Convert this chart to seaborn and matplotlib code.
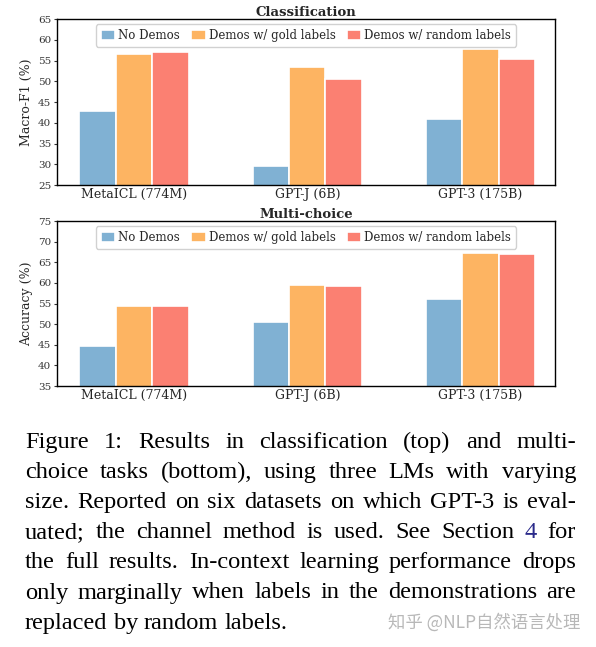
import matplotlib
matplotlib.use("Agg")
import matplotlib.pyplot as plt
import numpy as np
import pandas as pd
import seaborn as sns

# data
models = ['MetaICL (774M)', 'GPT-J (6B)', 'GPT-3 (175B)']
settings = ['No Demos', 'Demos w/ gold labels', 'Demos w/ random labels']

cls_no_demos = [42.8, 29.5, 40.8]
cls_gold = [56.6, 53.4, 57.7]
cls_random = [57.1, 50.5, 55.3]

mc_no_demos = [44.8, 50.4, 56.0]
mc_gold = [54.5, 59.5, 67.3]
mc_random = [54.4, 59.2, 66.9]

cls_yticks = [25, 30, 35, 40, 45, 50, 55, 60, 65]
mc_yticks = [35, 40, 45, 50, 55, 60, 65, 70, 75]

colors = ['#80b1d3', '#fdb462', '#fb8072']

caption_lines = [
    "Figure 1:  Results in classification (top) and multi-",
    "choice tasks (bottom), using three LMs with varying",
    "size. Reported on six datasets on which GPT-3 is eval-",
    "uated; the channel method is used.  See Section 4 for",
    "the full results. In-context learning performance drops",
    "only marginally when labels in the demonstrations are",
    "replaced by random labels.",
]


def long_df(a, b, c):
    rows = []
    for vals, s in zip([a, b, c], settings):
        for m, v in zip(models, vals):
            rows.append({'model': m, 'setting': s, 'value': v})
    return pd.DataFrame(rows)


sns.set_style("ticks")
plt.rcParams['font.family'] = ['DejaVu Serif']
plt.rcParams['axes.linewidth'] = 1.0

fig = plt.figure(figsize=(5.96, 6.47), dpi=100)
ax1 = fig.add_axes([0.0956, 0.714, 0.8356, 0.2566])
ax2 = fig.add_axes([0.0956, 0.4034, 0.8356, 0.255])

panels = [
    (ax1, long_df(cls_no_demos, cls_gold, cls_random), 'Classification', 'Macro-F1 (%)', cls_yticks),
    (ax2, long_df(mc_no_demos, mc_gold, mc_random), 'Multi-choice', 'Accuracy (%)', mc_yticks),
]

for ax, df, title, ylabel, yt in panels:
    sns.barplot(data=df, x='model', y='value', hue='setting', palette=colors,
                saturation=1, width=0.63, edgecolor='white', linewidth=1.2, ax=ax)
    ax.set_ylim(yt[0], yt[-1])
    ax.set_yticks(yt)
    ax.set_xlim(-0.445, 2.43)
    ax.set_title(title, fontsize=9.5, fontweight='bold', pad=2)
    ax.set_ylabel(ylabel, fontsize=9, labelpad=4)
    ax.set_xlabel('')
    ax.tick_params(axis='y', labelsize=7.5, length=2, pad=2, colors='#333333')
    ax.tick_params(axis='x', labelsize=9, length=0, pad=2)
    for sp in ax.spines.values():
        sp.set_visible(True)
        sp.set_color('black')
    ax.legend(loc='upper center', ncol=3, fontsize=8.5, frameon=True,
              handlelength=1.2, handleheight=0.9, handletextpad=0.25,
              columnspacing=1.0, borderpad=0.4, borderaxespad=0.45,
              fancybox=True, framealpha=0.9)

# caption, justified line by line
renderer = fig.canvas.get_renderer()
x0, x1 = 25 / 596, 576 / 596
y_top = 448
line_step = 30.1
cap_kw = dict(fontsize=17.6, family='Liberation Serif', va='baseline', ha='left')
for i, line in enumerate(caption_lines):
    y = 1 - (y_top + i * line_step) / 647
    words = [w for w in line.split(' ') if w != '']
    texts = []
    widths = []
    for w in words:
        col = '#2a2a8a' if (w == '4' and i == 3) else 'black'
        t = fig.text(x0, y, w, color=col, **cap_kw)
        texts.append(t)
        widths.append(t.get_window_extent(renderer).width / fig.bbox.width)
    if i < len(caption_lines) - 1:
        gap = (x1 - x0 - sum(widths)) / (len(words) - 1)
    else:
        sp = fig.text(0, 0, 'a a', **cap_kw)
        aa = fig.text(0, 0, 'aa', **cap_kw)
        gap = (sp.get_window_extent(renderer).width - aa.get_window_extent(renderer).width) / fig.bbox.width
        sp.remove()
        aa.remove()
    x = x0
    for t, w in zip(texts, widths):
        t.set_x(x)
        x += w + gap

fig.text(580 / 596, 1 - 628 / 647, '知乎 @NLP自然语言处理', color='#b8b8b8', fontsize=12.5,
         family=['Noto Sans CJK SC', 'DejaVu Sans'], ha='right', va='baseline')

fig.savefig('out.png', dpi=100)
